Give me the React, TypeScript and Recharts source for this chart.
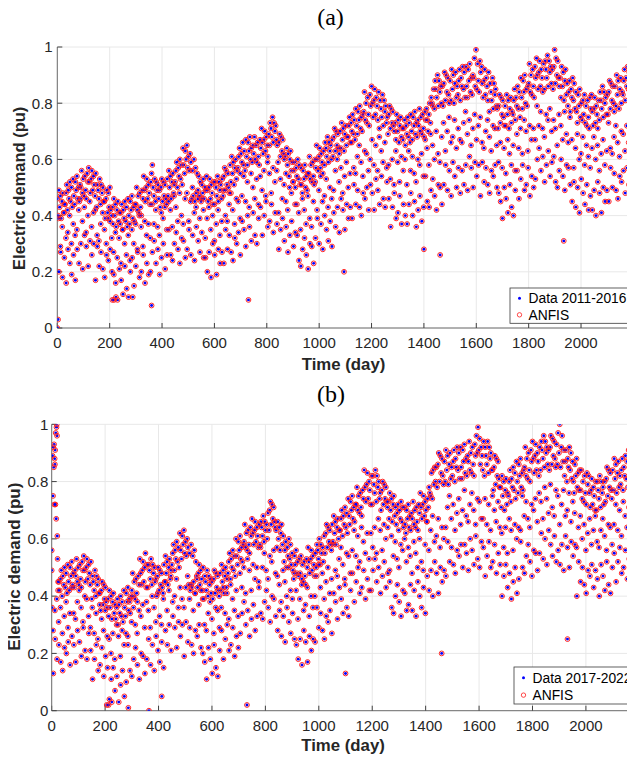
import React from "react";
import {
  ScatterChart,
  Scatter,
  XAxis,
  YAxis,
  CartesianGrid,
} from "recharts";

// ---------- DATA (values in hundredths of pu) ----------
// Panel (a) 2011-2016
const upperStepA = 3; // working-day band, one value every 3 days
const upperA = [
  46,40,49,43,47,39,45,48,41,44, 44,48,51,42,49,46,52,45,50,43,
  53,47,44,52,49,54,46,50,45,51, 50,56,48,53,47,54,49,46,55,52,
  57,52,48,53,56,49,54,51,47,55, 43,51,49,46,53,44,51,48,50,45,
  45,39,46,49,41,48,43,50,42,40, 43,37,46,40,44,36,42,45,38,41,
  37,41,44,35,42,39,45,38,43,36, 46,40,37,45,42,47,39,43,38,44,
  44,50,42,47,41,48,43,40,49,46, 54,49,45,50,53,46,51,48,44,52,
  55,58,50,47,53,45,52,49,51,46, 49,43,50,53,45,52,47,51,46,44,
  53,47,56,50,54,46,52,55,48,51, 52,56,59,50,57,54,60,53,58,51,
  64,58,55,63,60,65,57,61,56,62, 59,46,56,47,60,45,57,48,55,46,
  54,47,52,45,51,48,53,46,50,49, 54,49,45,50,53,46,51,48,44,52,
  44,52,50,47,54,45,52,49,51,46, 53,47,54,57,49,56,51,55,50,48,
  58,52,61,55,59,51,57,60,53,56, 57,61,64,55,62,59,66,58,63,56,
  67,61,58,66,63,68,60,64,59,65, 62,68,60,65,59,66,61,58,67,64,
  71,66,62,67,70,63,68,65,61,69, 65,73,71,68,75,66,73,70,72,67,
  65,59,66,69,61,68,63,67,62,60, 61,55,64,58,62,54,60,63,56,59,
  52,56,59,50,57,54,60,53,58,51, 57,51,48,56,53,58,50,54,49,55,
  55,61,53,58,52,59,54,51,60,57, 65,60,56,61,64,57,62,59,55,63,
  58,66,64,61,68,59,66,63,65,60, 67,61,68,71,63,70,65,69,64,62,
  70,64,73,67,71,63,69,72,65,68, 68,72,75,66,73,70,76,69,74,67,
  78,72,69,77,74,79,71,75,70,76, 77,84,74,80,73,82,76,72,83,79,
  86,80,75,81,85,76,82,79,74,84, 71,81,78,75,83,72,81,77,79,73,
  75,69,76,79,71,78,73,77,72,70, 73,67,76,70,74,66,72,75,68,71,
  67,71,74,65,72,69,75,68,73,66, 76,70,67,75,72,77,69,73,68,74,
  72,78,70,75,69,76,71,68,77,74, 78,74,70,76,80,73,82,80,79,85,
  78,88,85,82,90,79,88,84,86,80, 86,79,87,91,81,90,84,89,83,80,
  88,81,92,85,90,80,87,91,82,86, 83,88,92,81,89,86,93,85,91,82,
  93,86,82,92,88,94,84,89,83,90, 89,96,86,99,85,94,88,84,95,91,
  93,87,82,88,92,83,89,86,81,91, 77,87,84,81,89,78,87,83,85,79,
  78,71,79,83,73,82,76,81,75,72, 79,72,83,76,81,71,78,82,73,77,
  76,81,85,74,82,79,86,78,84,75, 89,82,78,88,84,90,80,85,79,86,
  87,94,84,90,83,92,86,82,93,89, 96,90,85,91,95,86,92,89,84,94,
  85,95,92,89,97,86,95,91,93,87, 92,85,93,99,87,96,90,95,89,86,
  89,82,93,86,91,81,88,92,83,87, 79,84,88,77,85,82,89,81,87,78,
  84,77,73,83,79,85,75,80,74,81, 76,83,73,79,72,81,75,71,82,78,
  83,77,72,78,82,73,79,76,71,81, 74,84,81,78,86,75,84,80,82,76,
  83,76,84,88,78,87,81,86,80,77, 86,79,90,83,88,78,85,89,80,84,
  83,88,92,81,89,86,93,85,91,97,
];
// Saturday of each week (day 7w+5)
const satA = [
  39,29,36,41,32,34,40,30,37,33, 35,42,46,38,43,34,40,45,36,41,
  42,33,31,37,41,35,30,39,38,32, 27,34,25,32,23,35,30,26,33,24,
  35,30,37,28,40,36,29,38,33,37, 32,44,37,42,36,33,41,39,43,35,
  45,42,36,47,43,38,48,40,37,46, 48,38,45,50,41,43,49,39,46,42,
  32,39,43,35,40,31,37,42,33,38, 49,40,38,44,48,42,37,46,45,39,
  47,54,45,52,43,55,50,46,53,44, 54,49,56,47,59,55,48,57,52,56,
  41,53,46,51,45,42,50,48,52,44, 44,41,35,46,42,37,47,39,36,45,
  52,42,49,54,45,47,53,43,50,46, 49,56,60,52,57,48,54,59,50,55,
  66,57,55,61,65,59,54,63,62,56, 60,67,58,65,56,68,63,59,66,57,
  58,53,60,51,63,59,52,61,56,60, 51,63,56,61,55,52,60,58,62,54,
  67,64,58,69,65,60,70,62,59,68, 73,63,70,75,66,68,74,64,71,67,
  66,73,77,69,74,65,71,76,67,72, 75,66,64,70,74,68,63,72,71,65,
  59,66,57,64,55,67,62,58,65,56, 69,64,71,62,74,70,63,72,67,71,
  67,79,72,77,71,68,76,74,78,70, 74,71,65,76,72,67,77,69,66,75,
  67,57,64,69,60,62,68,58,65,61, 57,64,68,60,65,56,62,67,58,63,
  73,64,62,68,72,66,61,70,69,63, 72,66,74,
];
// Sunday of each week (day 7w+6)
const sunA = [
  20,27,18,25,16,28,23,19,26,17, 28,23,30,21,33,29,22,31,26,30,
  17,29,22,27,21,18,26,24,28,20, 19,16,10,21,17,12,22,14,11,20,
  25,15,22,27,18,20,26,16,23,19, 20,27,31,23,28,19,25,30,21,26,
  35,26,24,30,34,28,23,32,31,25, 28,35,26,33,24,36,31,27,34,25,
  25,20,27,18,30,26,19,28,23,27, 23,35,28,33,27,24,32,30,34,26,
  38,35,29,40,36,31,41,33,30,39, 43,33,40,45,36,38,44,34,41,37,
  28,35,39,31,36,27,33,38,29,34, 33,24,22,28,32,26,21,30,29,23,
  32,39,30,37,28,40,35,31,38,29, 41,36,43,34,46,42,35,44,39,43,
  39,51,44,49,43,40,48,46,50,42, 51,48,42,53,49,44,54,46,43,52,
  46,36,43,48,39,41,47,37,44,40, 37,44,48,40,45,36,42,47,38,43,
  54,45,43,49,53,47,42,51,50,44, 51,58,49,56,47,59,54,50,57,48,
  56,51,58,49,61,57,50,59,54,58, 47,59,52,57,51,48,56,54,58,50,
  48,45,39,50,46,41,51,43,40,49, 56,46,53,58,49,51,57,47,54,50,
  53,60,64,56,61,52,58,63,54,59, 61,52,50,56,60,54,49,58,57,51,
  45,52,43,50,41,53,48,44,51,42, 47,42,49,40,52,48,41,50,45,49,
  45,57,50,55,49,46,54,52,56,48, 57,51,55,
];
// Holidays / outliers [day, value]
const extraA: [number, number][] = [
  [0, 0], [3, 3], [210, 10], [217, 10], [224, 11], [288, 11], [360, 8],
  [730, 10], [1095, 20], [1400, 28], [1462, 26], [1934, 31],
];

// Panel (b) 2017-2022
const upperStepB = 3;
const upperB = [
  49,89,92,93,86,97,99,61,42,45, 42,46,49,40,47,44,50,43,48,41,
  51,45,42,50,47,52,44,48,43,49, 47,53,45,50,44,51,46,43,52,49,
  54,49,45,50,53,46,51,48,44,52, 39,47,45,42,49,40,47,44,46,41,
  41,35,42,45,37,44,39,43,38,36, 39,33,42,36,40,32,38,41,34,37,
  32,36,39,30,37,34,40,33,38,31, 42,36,33,41,38,43,35,39,34,40,
  42,48,40,45,39,46,41,38,47,44, 53,48,44,49,52,45,50,55,43,51,
  43,51,49,46,53,44,51,48,50,45, 46,40,47,50,42,49,44,48,43,41,
  51,45,54,48,52,44,50,53,46,49, 51,55,58,49,56,53,59,52,57,50,
  62,56,53,61,58,63,55,59,54,60, 57,44,55,42,58,43,54,45,56,41,
  52,47,43,48,51,44,49,46,42,50, 39,47,45,42,49,40,47,44,46,41,
  45,39,46,49,41,48,43,47,42,40, 48,42,51,45,49,41,47,50,43,46,
  48,52,55,46,53,50,56,49,54,47, 60,54,51,59,56,61,53,57,52,58,
  59,65,57,62,56,63,58,55,64,61, 67,62,58,63,66,59,64,61,57,65,
  58,66,64,61,68,59,66,63,65,60, 69,63,70,73,65,72,67,71,66,64,
  63,57,66,60,64,56,62,65,58,61, 52,56,59,50,57,54,60,53,58,51,
  55,49,46,54,51,56,48,52,47,53, 48,54,46,51,45,52,47,44,53,50,
  57,52,48,53,56,49,54,51,47,55, 50,58,56,53,60,51,58,55,57,52,
  61,55,62,65,57,64,59,63,58,56, 65,59,68,62,66,58,64,67,60,63,
  63,67,70,61,68,65,71,64,69,62, 74,68,65,73,70,75,67,71,66,72,
  72,78,70,75,69,76,71,68,77,74, 84,78,73,79,83,74,80,77,72,82,
  72,82,79,76,84,73,82,78,80,74, 76,70,77,80,72,79,74,78,73,71,
  73,67,76,70,74,66,72,75,68,71, 65,69,72,63,70,67,73,66,71,64,
  71,65,62,70,67,72,64,68,63,69, 67,73,65,70,64,71,66,63,72,69,
  76,71,67,72,75,68,73,70,66,74, 71,78,76,75,83,74,84,79,85,80,
  85,78,86,90,80,89,83,88,82,79, 87,80,91,84,89,79,86,90,81,85,
  82,87,91,80,88,85,92,84,90,81, 92,85,81,91,87,93,83,88,82,89,
  87,94,84,90,83,92,86,82,93,89, 96,90,99,91,95,86,92,89,84,94,
  82,92,89,86,94,83,92,88,90,84, 84,77,85,89,79,88,82,87,81,78,
  78,71,82,75,80,70,77,81,72,76, 75,80,84,73,81,78,85,77,83,74,
  87,80,76,86,82,88,78,83,77,84, 85,92,82,88,81,90,84,80,91,87,
  94,88,83,89,93,84,90,87,82,92, 84,94,91,88,96,85,94,90,92,86,
  91,84,92,96,86,95,89,94,88,85, 93,86,97,90,100,85,92,96,87,91,
  82,87,91,80,88,85,92,84,90,81, 87,80,76,86,82,88,78,83,77,84,
  77,84,74,80,73,82,76,72,83,79, 82,76,71,77,81,72,78,75,70,80,
  70,80,77,74,82,71,80,76,78,72, 80,73,81,85,75,84,78,83,77,74,
  84,77,88,81,86,76,83,87,78,82, 79,84,88,77,85,82,89,81,87,78,
  91,85,82,92,88,95,98,
];
const satB = [
  28,35,39,31,36,27,33,38,29,34, 43,34,32,38,42,36,31,40,39,33,
  29,36,27,34,25,37,32,28,35,26, 25,20,27,18,30,26,19,28,23,27,
  26,38,31,36,30,27,35,33,37,29, 38,35,29,40,36,31,41,33,30,39,
  45,35,42,47,38,40,46,36,43,39, 36,43,47,39,44,35,41,46,37,42,
  39,30,28,34,38,32,27,36,35,29, 36,43,34,41,32,44,39,35,42,33,
  48,43,50,41,53,49,42,51,46,50, 45,57,50,55,49,46,54,52,56,48,
  47,44,38,49,45,40,50,42,39,48, 42,32,39,44,35,37,43,33,40,36,
  40,47,51,43,48,39,45,50,41,46, 58,49,47,53,57,51,46,55,54,48,
  56,63,54,61,52,64,59,55,62,53, 62,57,64,55,67,63,56,65,60,64,
  49,61,54,59,53,50,58,56,60,52, 57,54,48,59,55,50,60,52,49,58,
  66,56,63,68,59,61,67,57,64,60, 64,71,75,67,72,63,69,74,65,70,
  77,68,66,72,76,70,65,74,73,67, 67,74,65,72,63,75,70,66,73,64,
  62,57,64,55,67,63,56,65,60,64, 63,75,68,73,67,64,72,70,74,66,
  76,73,67,78,74,69,79,71,68,77, 75,65,72,77,68,70,76,66,73,69,
  57,64,68,60,65,56,62,67,58,63, 68,59,57,63,67,61,56,65,64,58,
  65,72,63,70,61,73,68,64,71,62, 70,
];
const sunB = [
  13,25,18,23,17,14,22,20,24,16, 26,23,17,28,24,19,29,21,18,27,
  21,11,18,23,14,16,22,12,19,15, 4,11,15,7,12,3,9,14,5,10,
  23,14,12,18,22,16,11,20,19,13, 18,25,16,23,14,26,21,17,24,15,
  28,23,30,21,33,29,22,31,26,30, 19,31,24,29,23,20,28,26,30,22,
  20,17,11,22,18,13,23,15,12,21, 28,18,25,30,21,23,29,19,26,22,
  27,34,38,30,35,26,32,37,28,33, 43,34,32,38,42,36,31,40,39,33,
  28,35,26,33,24,36,31,27,34,25, 23,18,25,16,28,24,17,26,21,25,
  24,36,29,34,28,25,33,31,35,27, 41,38,32,43,39,34,44,36,33,42,
  48,38,45,50,41,43,49,39,46,42, 42,49,53,45,50,41,47,52,43,48,
  45,36,34,40,44,38,33,42,41,35, 37,44,35,42,33,45,40,36,43,34,
  47,42,49,40,52,48,41,50,45,49, 47,59,52,57,51,48,56,54,58,50,
  58,55,49,60,56,51,61,53,50,59, 57,47,54,59,50,52,58,48,55,51,
  40,47,51,43,48,39,45,50,41,46, 59,50,48,54,58,52,47,56,55,49,
  55,62,53,60,51,63,58,54,61,52, 56,51,58,49,61,57,50,59,54,58,
  40,52,45,50,44,41,49,47,51,43, 49,46,40,51,47,42,52,44,41,50,
  55,45,52,57,48,50,56,46,53,49, 55,
];
const extraB: [number, number][] = [
  [0, 56], [1, 36], [5, 75], [8, 85], [10, 72], [11, 88], [13, 91], [14, 72],
  [17, 67], [19, 100], [20, 96], [22, 53], [24, 45],
  [206, 2], [213, 2], [225, 3], [287, 1], [364, 0], [412, 5], [731, 2],
  [1100, 13], [1460, 20], [1931, 25],
];

const xTicks = [0, 200, 400, 600, 800, 1000, 1200, 1400, 1600, 1800, 2000];
const yTicks = [0, 0.2, 0.4, 0.6, 0.8, 1];
const legendA = ["Data 2011-2016", "ANFIS"];
const legendB = ["Data 2017-2022", "ANFIS"];
const titles = ["(a)", "(b)"];
const xLabel = "Time (day)";
const yLabel = "Electric demand (pu)";

type Pt = { day: number; v: number };
function buildPoints(
  upper: number[],
  step: number,
  sat: number[],
  sun: number[],
  extra: [number, number][]
): Pt[] {
  const pts: Pt[] = [];
  upper.forEach((v, i) => pts.push({ day: i * step, v: v / 100 }));
  sat.forEach((v, i) => pts.push({ day: i * 7 + 5, v: v / 100 }));
  sun.forEach((v, i) => pts.push({ day: i * 7 + 6, v: v / 100 }));
  extra.forEach(([d, v]) => pts.push({ day: d, v: v / 100 }));
  return pts;
}

const ptsA = buildPoints(upperA, upperStepA, satA, sunA, extraA);
const ptsB = buildPoints(upperB, upperStepB, satB, sunB, extraB);

const FONT = "'Liberation Sans', Arial, Helvetica, sans-serif";
const BLUE = "#0000ff";
const RED = "#ff1a1a";
const AXIS = "#6e6e6e";

const DataDot = (p: any) =>
  p.cx == null ? <g /> : <circle cx={p.cx} cy={p.cy} r={1.45} fill={BLUE} />;
const AnfisRing = (p: any) =>
  p.cx == null ? (
    <g />
  ) : (
    <circle cx={p.cx} cy={p.cy} r={2.4} fill="none" stroke={RED} strokeWidth={0.95} />
  );

type PanelProps = {
  pts: Pt[];
  top: number;
  height: number;
  margin: { top: number; right: number; left: number; bottom: number };
  xMax: number;
  xTickMargin: number;
  yTickMargin: number;
};

function Panel({ pts, top, height, margin, xMax, xTickMargin, yTickMargin }: PanelProps) {
  const tickStyle = { fontSize: 15, fill: "#262626", fontFamily: FONT };
  return (
    <div style={{ position: "absolute", left: 0, top, width: 635, height }}>
      <ScatterChart width={635} height={height} margin={margin}>
        <CartesianGrid stroke="#e8e8e8" strokeWidth={1} />
        <XAxis
          type="number"
          dataKey="day"
          domain={[0, xMax]}
          ticks={xTicks}
          allowDataOverflow
          height={30}
          tickSize={-5}
          tickMargin={xTickMargin}
          tick={tickStyle}
          axisLine={{ stroke: AXIS }}
          tickLine={{ stroke: "#404040" }}
        />
        <XAxis
          xAxisId="top"
          orientation="top"
          type="number"
          domain={[0, xMax]}
          ticks={xTicks}
          allowDataOverflow
          height={0}
          tickSize={-5}
          tick={false}
          axisLine={{ stroke: AXIS }}
          tickLine={{ stroke: "#404040" }}
        />
        <YAxis
          type="number"
          dataKey="v"
          domain={[0, 1]}
          ticks={yTicks}
          allowDataOverflow
          width={40}
          tickSize={-5}
          tickMargin={yTickMargin}
          tick={tickStyle}
          axisLine={{ stroke: AXIS }}
          tickLine={{ stroke: "#404040" }}
        />
        <YAxis
          yAxisId="right"
          orientation="right"
          type="number"
          domain={[0, 1]}
          ticks={yTicks}
          allowDataOverflow
          width={0}
          tickSize={-5}
          tick={false}
          axisLine={{ stroke: AXIS }}
          tickLine={{ stroke: "#404040" }}
        />
        <Scatter
          data={pts}
          dataKey="v"
          shape={DataDot}
          isAnimationActive={false}
          legendType="none"
        />
        <Scatter
          data={pts}
          dataKey="v"
          shape={AnfisRing}
          isAnimationActive={false}
          legendType="none"
        />
      </ScatterChart>
    </div>
  );
}

function LegendBox({ x, y, w, h, labels }: { x: number; y: number; w: number; h: number; labels: string[] }) {
  const row1 = y + h * 0.29;
  const row2 = y + h * 0.76;
  return (
    <g>
      <rect x={x} y={y} width={w} height={h} fill="#ffffff" stroke="#3a3a3a" strokeWidth={0.8} />
      <circle cx={x + 9.5} cy={row1} r={1.5} fill={BLUE} />
      <circle cx={x + 9.5} cy={row2} r={2.2} fill="none" stroke={RED} strokeWidth={0.8} />
      <text x={x + 18.5} y={row1 + 5} fontSize={13.8} fontFamily={FONT} fill="#000">
        {labels[0]}
      </text>
      <text x={x + 18.5} y={row2 + 5} fontSize={13.8} fontFamily={FONT} fill="#000">
        {labels[1]}
      </text>
    </g>
  );
}

export default function App() {
  return (
    <div
      style={{
        position: "relative",
        margin: "-8px -8px 0 -8px",
        width: 635,
        height: 757,
        overflow: "hidden",
        background: "#ffffff",
      }}
    >
      <Panel
        pts={ptsA}
        top={0}
        height={370}
        margin={{ top: 47, right: 5, left: 17.3, bottom: 12 }}
        xMax={2187}
        xTickMargin={14.5}
        yTickMargin={9.6}
      />
      <Panel
        pts={ptsB}
        top={380}
        height={377}
        margin={{ top: 44.3, right: 1, left: 11.7, bottom: 16.3 }}
        xMax={2180}
        xTickMargin={15}
        yTickMargin={8.4}
      />
      <svg
        width={635}
        height={757}
        style={{ position: "absolute", left: 0, top: 0, pointerEvents: "none" }}
      >
        <text x={330.5} y={25} fontSize={24} fontFamily="'Liberation Serif', 'Times New Roman', serif" textAnchor="middle" fill="#000">
          {titles[0]}
        </text>
        <text x={331} y={402} fontSize={24} fontFamily="'Liberation Serif', 'Times New Roman', serif" textAnchor="middle" fill="#000">
          {titles[1]}
        </text>
        <text x={343.5} y={370} fontSize={16.8} fontWeight="bold" fontFamily={FONT} textAnchor="middle" fill="#262626">
          {xLabel}
        </text>
        <text x={343} y={751} fontSize={16.8} fontWeight="bold" fontFamily={FONT} textAnchor="middle" fill="#262626">
          {xLabel}
        </text>
        <text
          transform="translate(25.2,188.3) rotate(-90)"
          fontSize={16.5}
          fontWeight="bold"
          fontFamily={FONT}
          textAnchor="middle"
          fill="#262626"
        >
          {yLabel}
        </text>
        <text
          transform="translate(19.8,566.7) rotate(-90)"
          fontSize={17}
          fontWeight="bold"
          fontFamily={FONT}
          textAnchor="middle"
          fill="#262626"
        >
          {yLabel}
        </text>
        <LegendBox x={510} y={288} w={121.7} h={35.3} labels={legendA} />
        <LegendBox x={514} y={667} w={124} h={37} labels={legendB} />
      </svg>
    </div>
  );
}
